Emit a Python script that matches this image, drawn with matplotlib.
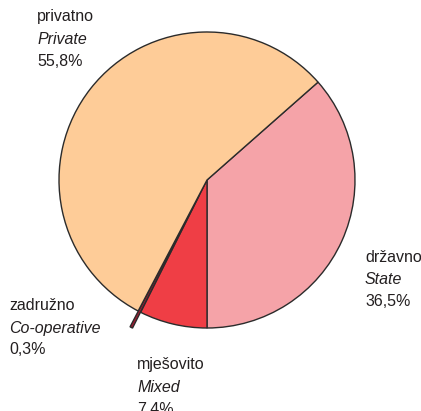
import matplotlib.pyplot as plt

# Ownership structure shares
labels_hr = ["državno", "mješovito", "zadružno", "privatno"]
labels_en = ["State", "Mixed", "Co-operative", "Private"]
shares = [36.5, 7.4, 0.3, 55.8]
colors = ["#F5A3A8", "#EF3E45", "#9E1B32", "#FECC98"]
explode_frac = [0, 0, 0.12, 0]

W, H = 421, 411
plt.rcParams['font.family'] = ['Liberation Sans Narrow', 'Liberation Sans', 'DejaVu Sans']

fig = plt.figure(figsize=(W / 100, H / 100), dpi=100)
ax = fig.add_axes([0, 0, 1, 1])

cx, cy, r = 207, H - 180, 148
ax.pie(shares, colors=colors, explode=[e * r for e in explode_frac],
       startangle=41.4, counterclock=False,
       center=(cx, cy), radius=r, frame=True,
       wedgeprops=dict(edgecolor="#2b2b2b", linewidth=1.0))
ax.set_xlim(0, W)
ax.set_ylim(0, H)
ax.axis('off')

# label block positions (left x, y of first line in px from top)
label_pos = {"državno": (365, 258), "mješovito": (137, 365),
             "zadružno": (9, 306), "privatno": (37, 17)}

for hr, en, val in zip(labels_hr, labels_en, shares):
    x, y = label_pos[hr]
    pct = f"{val:.1f}%".replace(".", ",")
    ax.text(x, H - y, hr, fontsize=11.5, ha='left', va='center', color="#231F20")
    ax.text(x, H - y - 22, en, fontsize=11.5, style='italic', ha='left', va='center', color="#231F20")
    ax.text(x, H - y - 44, pct, fontsize=11.5, ha='left', va='center', color="#231F20")

fig.savefig("out.png", dpi=100)
